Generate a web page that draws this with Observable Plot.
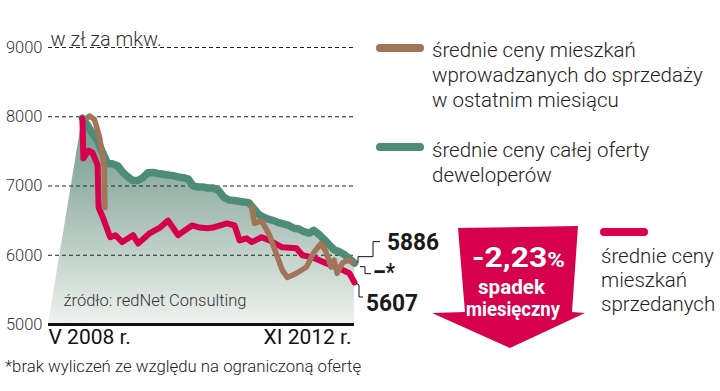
<!DOCTYPE html>
<html><head><meta charset="utf-8">
<script src="https://cdn.jsdelivr.net/npm/d3@7"></script>
<script src="https://cdn.jsdelivr.net/npm/@observablehq/plot@0.6"></script>
<style>
body{margin:0;background:#fff;}
#chart{width:720px;height:391px;overflow:hidden;}
</style></head><body><div id="chart"></div>
<script>
// ---- data (zł per m², V 2008 – XI 2012) ----
const unitLabel = "w zł za mkw.";
const startLabel = "V 2008 r.";
const endLabel = "XI 2012 r.";
const yTicks = [5000, 6000, 7000, 8000, 9000];

// whole developer offer (green), monthly from V 2008
const offerStart = "2008-05-01";
const offerValues = [7980,7880,7760,7650,7480,7320,7320,7290,7195,7130,
  7080,7080,7120,7190,7195,7180,7170,7160,7150,7130,
  7120,7100,7000,6985,6985,6970,6970,6940,6840,6800,
  6790,6780,6770,6760,6680,6590,6550,6520,6500,6470,
  6450,6430,6390,6380,6340,6320,6360,6300,6230,6150,
  6080,6050,6010,5950,5886];

// sold flats (red)
const soldDates = ["2008-05-01","2008-05-07","2008-06-07","2008-07-01","2008-08-01","2008-08-07","2008-09-01","2008-10-16","2008-11-16","2008-12-28",
  "2009-03-03","2009-04-03","2009-06-13","2009-08-13","2009-10-01","2009-12-01","2010-02-22","2010-04-10","2010-05-28","2010-06-28",
  "2010-09-22","2010-11-07","2010-12-07","2011-01-19","2011-02-19","2011-04-19","2011-06-06","2011-08-22","2011-11-16","2011-12-22",
  "2012-02-20","2012-05-13","2012-08-01","2012-10-01","2012-11-01"];
const soldValues = [7970,7400,7510,7480,7300,6690,6550,6260,6290,6190,
  6290,6170,6320,6400,6500,6290,6430,6400,6390,6400,
  6460,6430,6215,6245,6190,6260,6215,6115,6100,6000,
  5970,5885,5810,5740,5607];

// flats newly put on sale in the last month (brown); null = no calculation
const newDates = ["2008-06-01","2008-06-13","2008-07-13","2008-08-13","2008-09-10","2008-09-14","2009-06-01",
  "2011-02-19","2011-03-07","2011-04-19","2011-06-06","2011-07-16","2011-08-22","2011-09-22","2011-11-16",
  "2012-01-16","2012-03-01","2012-04-13","2012-05-13","2012-06-13","2012-07-01","2012-07-19","2012-08-19","2012-09-19","2012-10-19"];
const newValues = [7990,8010,7960,7700,7280,6690,null,
  6690,6460,6500,6290,6030,5785,5680,5740,
  5830,6045,6170,6045,5830,5930,5740,5885,5930,5900];

const legendNew = ["średnie ceny mieszkań","wprowadzanych do sprzedaży","w ostatnim miesiącu"];
const legendOffer = ["średnie ceny całej oferty","deweloperów"];
const legendSold = ["średnie ceny","mieszkań","sprzedanych"];
const changeValue = "-2,23";
const changeLines = ["spadek","miesięczny"];
const sourceText = "źródło: redNet Consulting";
const footnote = "*brak wyliczeń ze względu na ograniczoną ofertę";
const lastNewLabel = "–*";

// ---- build tables ----
const parse = d3.utcParse("%Y-%m-%d");
const offerDates = d3.utcMonth.range(parse(offerStart), d3.utcMonth.offset(parse(offerStart), offerValues.length));
const offer = offerValues.map((v, i) => ({date: offerDates[i], v}));
const sold = soldValues.map((v, i) => ({date: parse(soldDates[i]), v}));
const fresh = newValues.map((v, i) => ({date: parse(newDates[i]), v: v == null ? NaN : v}));
const xStart = parse("2007-10-09"), xEnd = parse("2012-11-01");
const areaData = [{date: xStart, v: 5000}, ...offer];

const RED = "#d6004c", GREEN = "#4f8c78", BROWN = "#a27559";
const LIGHT = "Roboto, 'Liberation Sans', sans-serif";
const BOLDC = "Roboto, 'DejaVu Sans Condensed', sans-serif";

const chart = Plot.plot({
  width: 720, height: 391,
  marginTop: 47, marginBottom: 67, marginLeft: 48, marginRight: 366,
  style: {fontFamily: LIGHT, fontWeight: 300, background: "#fff", color: "#333"},
  x: {type: "utc", domain: [xStart, xEnd], axis: null},
  y: {domain: [5000, 9000], ticks: yTicks, tickFormat: d => String(d), tickSize: 0, tickPadding: 6, label: null},
  marks: [
    () => {
      const defs = d3.create("svg:defs");
      const g = defs.append("linearGradient").attr("id", "areaGrad").attr("x1", 0).attr("y1", 0).attr("x2", 0).attr("y2", 1);
      g.append("stop").attr("offset", "0%").attr("stop-color", "#6d9b8b");
      g.append("stop").attr("offset", "45%").attr("stop-color", "#a6bdb4");
      g.append("stop").attr("offset", "100%").attr("stop-color", "#eef2ef");
      return defs.node();
    },
    Plot.areaY(areaData, {x: "date", y1: 5000, y2: "v", fill: "url(#areaGrad)"}),
    Plot.ruleY(yTicks.filter(d => d > 5000), {stroke: "#222", strokeWidth: 1, strokeDasharray: "4,3"}),
    Plot.ruleY([5000], {stroke: "#111", strokeWidth: 3}),
    Plot.axisY({ticks: yTicks, tickFormat: d => String(d), tickSize: 0, tickPadding: 6, fontSize: 16.5, fill: "#333"}),
    Plot.line(offer, {x: "date", y: "v", stroke: GREEN, strokeWidth: 7.5, strokeLinejoin: "round", strokeLinecap: "round"}),
    Plot.line(sold, {x: "date", y: "v", stroke: RED, strokeWidth: 6, strokeLinejoin: "round", strokeLinecap: "round"}),
    Plot.line(fresh, {x: "date", y: "v", stroke: BROWN, strokeWidth: 5.5, strokeLinejoin: "round", strokeLinecap: "round"}),
    Plot.text([unitLabel], {frameAnchor: "top-left", dx: 2, dy: -16, text: d => d, fontSize: 20, fill: "#333", textAnchor: "start"}),
    Plot.text([sourceText], {frameAnchor: "bottom-left", dx: 15, dy: -19, text: d => d, fontSize: 16.5, fill: "#333", textAnchor: "start"}),
    Plot.text([startLabel], {frameAnchor: "bottom-left", dx: 0, dy: 19, text: d => d, fontSize: 21, fontWeight: 400, fill: "#111", textAnchor: "start"}),
    Plot.text([endLabel], {frameAnchor: "bottom-right", dx: -3, dy: 19, text: d => d, fontSize: 21, fontWeight: 400, fill: "#111", textAnchor: "end"}),
    // end-value connectors and labels
    (index, scales) => {
      const g = d3.create("svg:g");
      const lastO = offer[offer.length - 1], lastS = sold[sold.length - 1];
      const lastN = fresh[fresh.length - 1];
      const xe = scales.x(lastO.date), yo = scales.y(lastO.v), ys = scales.y(lastS.v), yn = scales.y(lastN.v);
      const line = (pts) => g.append("path").attr("d", "M" + pts.map(p => p.join(",")).join("L"))
        .attr("fill", "none").attr("stroke", "#111").attr("stroke-width", 1);
      line([[xe + 4, yo], [xe + 4, yo - 6], [xe + 19, yo - 6], [xe + 19, yo - 21], [xe + 26, yo - 21]]);
      line([[xe + 6, yn + 5], [xe + 11, yn + 5], [xe + 11, yn + 12], [xe + 17, yn + 12]]);
      line([[xe + 2, ys + 1], [xe + 5, ys + 3], [xe + 5, ys + 15], [xe + 9, ys + 15]]);
      const lab = (t, x, y, w) => {
        const e = g.append("text").attr("x", x).attr("y", y).text(t).attr("text-anchor", "start")
          .attr("font-family", BOLDC).attr("font-weight", 700).attr("font-size", 24).attr("fill", "#1a1a1a");
        if (w) e.attr("textLength", w).attr("lengthAdjust", "spacingAndGlyphs");
      };
      lab(String(lastO.v), xe + 33, yo - 13, 52);
      lab(lastNewLabel, xe + 19, yn + 18, 22);
      lab(String(lastS.v), xe + 12, ys + 29, 52);
      return g.node();
    }
  ]
});

const svg = d3.select(chart);

// legend
function legend(color, x, ySw, lines, tx, ty, lh) {
  svg.append("line").attr("x1", x).attr("x2", x + 40).attr("y1", ySw).attr("y2", ySw)
    .attr("stroke", color).attr("stroke-width", 8).attr("stroke-linecap", "round");
  const t = svg.append("text").attr("text-anchor", "start").attr("font-family", LIGHT).attr("font-weight", 300)
    .attr("font-size", 20.5).attr("fill", "#222");
  lines.forEach((l, i) => t.append("tspan").attr("x", tx).attr("y", ty + i * lh).text(l));
}
legend(BROWN, 380, 48, legendNew, 432, 57, 25);
legend(GREEN, 380, 147, legendOffer, 432, 157, 25);
legend(RED, 604, 232, legendSold, 601, 263, 24);

// arrow with monthly change
svg.append("path")
  .attr("d", "M458,228L578,226L572,312L585,313L510,348L432,313L465,312Z")
  .attr("fill", RED);
const at = svg.append("text").attr("x", 472).attr("y", 267).attr("text-anchor", "start")
  .attr("font-family", BOLDC).attr("font-weight", 700).attr("fill", "#fff")
  .attr("textLength", 93).attr("lengthAdjust", "spacingAndGlyphs");
at.append("tspan").attr("font-size", 28).text(changeValue);
at.append("tspan").attr("font-size", 21).text("%");
const widths = [67, 94];
const starts = [478, 466];
changeLines.forEach((l, i) => svg.append("text").attr("x", starts[i]).attr("y", 294 + i * 22).attr("text-anchor", "start")
  .attr("font-family", BOLDC).attr("font-weight", 700).attr("font-size", 20).attr("fill", "#fff")
  .attr("textLength", widths[i]).attr("lengthAdjust", "spacingAndGlyphs").text(l));

// footnote
svg.append("text").attr("x", 5).attr("y", 372).attr("text-anchor", "start").attr("font-family", LIGHT).attr("font-weight", 300)
  .attr("font-size", 16.8).attr("fill", "#222").text(footnote);

document.getElementById("chart").appendChild(chart);
</script>
</body></html>
